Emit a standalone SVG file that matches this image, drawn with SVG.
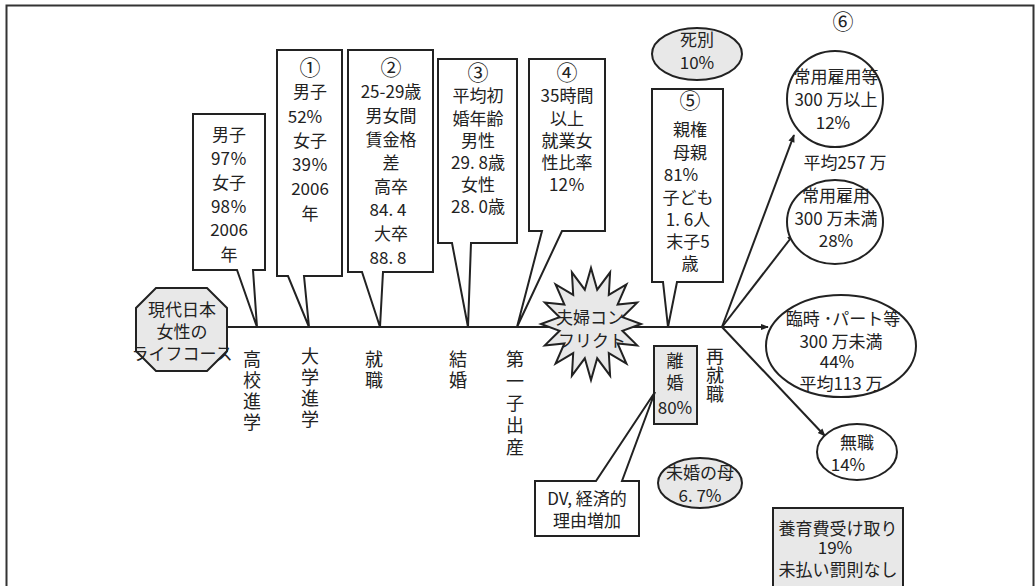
<svg xmlns="http://www.w3.org/2000/svg" width="1035" height="586" viewBox="0 0 1035 586">
<defs>
<style>
text{font-family:"Noto Sans CJK JP","Noto Sans",sans-serif;font-size:17px;fill:#222;text-anchor:middle}
.v{writing-mode:vertical-rl;text-anchor:start;font-size:18px}
.n{font-size:21px}
.box{fill:#fff;stroke:#222;stroke-width:2}
.gray{fill:#e8e8e8;stroke:#222;stroke-width:2}
.ln{fill:none;stroke:#222;stroke-width:2}
</style>
<marker id="ah" viewBox="0 0 10 10" refX="9" refY="5" markerWidth="8" markerHeight="8" orient="auto" markerUnits="userSpaceOnUse"><path d="M0,1 L10,5 L0,9 Z" fill="#222"/></marker>
</defs>
<rect x="6.5" y="5.5" width="1027" height="620" fill="#fff" stroke="#333" stroke-width="2"/>

<g id="connectors">
<line class="ln" x1="227" y1="327" x2="724" y2="327" stroke-width="2.5"/>
<line class="ln" x1="722" y1="327" x2="794" y2="135" marker-end="url(#ah)"/>
<line class="ln" x1="722" y1="327" x2="794" y2="234" marker-end="url(#ah)"/>
<line class="ln" x1="722" y1="327" x2="768" y2="327" marker-end="url(#ah)"/>
<line class="ln" x1="722" y1="327" x2="825" y2="436" marker-end="url(#ah)"/>
</g>

<g id="start">
<polygon class="gray" points="156,288 207,288 227,308 227,351 207,371 156,371 136,351 136,308"/>
<text x="182" y="316">現代日本</text>
<text x="182" y="338">女性の</text>
<text x="182" y="360">ライフコース</text>
</g>

<g id="c-high">
<path class="box" d="M193,114 H265 V270 H253 L257,327 L237,270 H193 Z"/>
<text x="229" y="141">男子</text>
<text x="229" y="165">97％</text>
<text x="229" y="189">女子</text>
<text x="229" y="213">98％</text>
<text x="229" y="236">2006</text>
<text x="229" y="261">年</text>
</g>

<g id="c1">
<path class="box" d="M277,50 H342 V276 H304 L309,327 L288,276 H277 Z"/>
<text class="n" x="310" y="75">①</text>
<text x="310" y="98">男子</text>
<text x="305" y="123">52%</text>
<text x="310" y="147">女子</text>
<text x="310" y="171">39％</text>
<text x="310" y="195">2006</text>
<text x="310" y="220">年</text>
</g>

<g id="c2">
<path class="box" d="M348,50 H433 V272 H383 L380,327 L362,272 H348 Z"/>
<text class="n" x="391" y="75">②</text>
<text x="391" y="98">25-29歳</text>
<text x="391" y="122">男女間</text>
<text x="391" y="146">賃金格</text>
<text x="391" y="169">差</text>
<text x="391" y="193">高卒</text>
<text x="388" y="216">84. 4</text>
<text x="391" y="240">大卒</text>
<text x="388" y="264">88. 8</text>
</g>

<g id="c3">
<path class="box" d="M438,59 H517 V243 H471 L468,327 L452,243 H438 Z"/>
<text class="n" x="478" y="80">③</text>
<text x="478" y="102">平均初</text>
<text x="478" y="125">婚年齢</text>
<text x="478" y="147">男性</text>
<text x="478" y="169">29. 8歳</text>
<text x="478" y="191">女性</text>
<text x="478" y="213">28. 0歳</text>
</g>

<g id="c4">
<path class="box" d="M529,59 H605 V231 H562 L517,327 L542,231 H529 Z"/>
<text class="n" x="567" y="80">④</text>
<text x="567" y="102">35時間</text>
<text x="567" y="125">以上</text>
<text x="567" y="147">就業女</text>
<text x="567" y="169">性比率</text>
<text x="567" y="191">12％</text>
</g>

<g id="conflict">
<polygon class="gray" points="641,324 622.4,330.8 637.2,345.4 617.6,343.5 626.4,363.6 608.8,353.1 610.1,375.7 597.2,358.3 591,380 584.8,358.3 571.9,375.7 573.2,353.1 555.6,363.6 564.4,343.5 544.8,345.4 559.6,330.8 541,324 559.6,317.2 544.8,302.6 564.4,304.5 555.6,284.4 573.2,294.9 571.9,272.3 584.8,289.7 591,268 597.2,289.7 610.1,272.3 608.8,294.9 626.4,284.4 617.6,304.5 637.2,302.6 622.4,317.2"/>
<text x="590" y="324" font-size="18">夫婦コン</text>
<text x="592" y="347" font-size="18">フリクト</text>
</g>

<g id="c5">
<path class="box" d="M652,89 H723 V282 H677 L668,327 L663,282 H652 Z"/>
<text class="n" x="690" y="108">⑤</text>
<text x="690" y="136">親権</text>
<text x="690" y="159">母親</text>
<text x="681" y="181">81%</text>
<text x="688" y="204">子ども</text>
<text x="688" y="226">1. 6人</text>
<text x="688" y="248">末子5</text>
<text x="690" y="270">歳</text>
</g>

<g id="death">
<ellipse class="gray" cx="697" cy="54" rx="45" ry="26"/>
<text x="697" y="46">死別</text>
<text x="697" y="69">10%</text>
</g>

<text class="n" x="843" y="29">⑥</text>

<g id="e1">
<ellipse class="box" cx="835" cy="99" rx="48" ry="48"/>
<text x="836" y="83">常用雇用等</text>
<text x="836" y="106">300 万以上</text>
<text x="833" y="129">12%</text>
</g>

<text x="845" y="169">平均257 万</text>

<g id="e2">
<ellipse class="box" cx="835" cy="222" rx="48" ry="42"/>
<text x="836" y="202">常用雇用</text>
<text x="836" y="225">300 万未満</text>
<text x="836" y="247">28%</text>
</g>

<g id="e3">
<ellipse class="box" cx="841" cy="346" rx="75" ry="51"/>
<text x="843" y="325">臨時 ･パート等</text>
<text x="841" y="348">300 万未満</text>
<text x="837" y="368">44%</text>
<text x="841" y="390">平均113 万</text>
</g>

<g id="e4">
<ellipse class="box" cx="857" cy="452" rx="40" ry="28"/>
<text x="857" y="449">無職</text>
<text x="848" y="471">14%</text>
</g>

<g id="support">
<rect class="gray" x="773" y="508" width="130" height="80"/>
<text x="838" y="535">養育費受け取り</text>
<text x="835" y="554">19%</text>
<text x="838" y="576">未払い罰則なし</text>
</g>

<g id="divorce">
<rect class="gray" x="654" y="346" width="43" height="78"/>
<text x="675" y="367">離</text>
<text x="675" y="389">婚</text>
<text x="675" y="414">80%</text>
</g>

<g id="dv">
<path class="box" d="M535,481 H596 L655,392 L622,481 H639 V536 H535 Z"/>
<text x="587" y="505">DV, 経済的</text>
<text x="587" y="527">理由増加</text>
</g>

<g id="unmarried">
<ellipse class="gray" cx="700" cy="483" rx="42" ry="25"/>
<text x="700" y="479">未婚の母</text>
<text x="700" y="502">6. 7%</text>
</g>

<g id="labels">
<text class="v" x="252" y="350" letter-spacing="3">高校進学</text>
<text class="v" x="310" y="347" letter-spacing="3">大学進学</text>
<text class="v" x="374" y="350" letter-spacing="3">就職</text>
<text class="v" x="458" y="350" letter-spacing="3">結婚</text>
<text class="v" x="515" y="350" letter-spacing="4">第一子出産</text>
<text class="v" x="715" y="347" letter-spacing="1">再就職</text>
</g>
</svg>
